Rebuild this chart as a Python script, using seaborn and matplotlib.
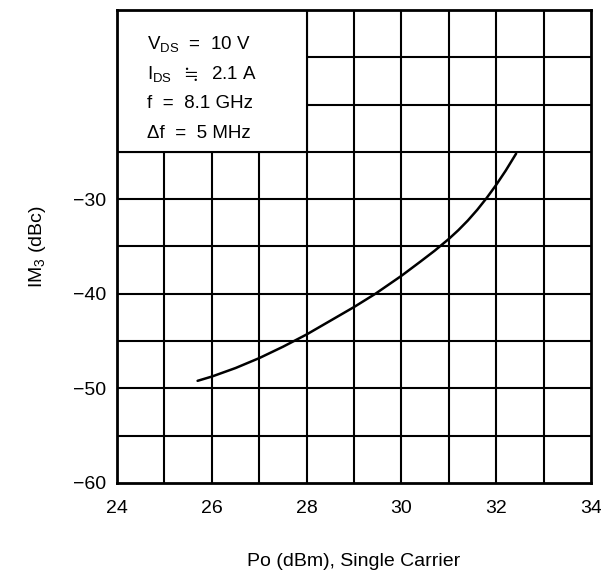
import numpy as np
import pandas as pd
import matplotlib
matplotlib.use("Agg")
import matplotlib.pyplot as plt
from matplotlib.patches import Rectangle
import seaborn as sns

# curve
po_dbm = [25.7, 26.0, 26.5, 27.0, 27.5, 28.0, 28.5, 29.0, 29.45, 30.0, 30.4, 30.7, 31.0, 31.2, 31.4, 31.6, 31.8, 32.0, 32.2, 32.42]
im3_dbc = [-49.2, -48.75, -47.85, -46.8, -45.6, -44.3, -42.85, -41.4, -40.0, -38.1, -36.6, -35.45, -34.2, -33.28, -32.26, -31.12, -29.86, -28.48, -26.98, -25.18]

x_ticks = [24, 26, 28, 30, 32, 34]
y_ticks = [-60, -50, -40, -30]
conditions = ["V$_{DS}$  =  10 V", r"I$_{DS}$  $\fallingdotseq$  2.1 A", "f  =  8.1 GHz", "\u0394f  =  5 MHz"]

sns.set_style("white")
plt.rcParams["font.family"] = ["Liberation Sans", "DejaVu Sans"]
plt.rcParams["mathtext.fontset"] = "custom"
plt.rcParams["mathtext.rm"] = "Liberation Sans"
plt.rcParams["mathtext.it"] = "Liberation Sans"
plt.rcParams["mathtext.default"] = "rm"
plt.rcParams["mathtext.fallback"] = "stix"
for key in ["text.color", "axes.labelcolor", "xtick.color", "ytick.color"]:
    plt.rcParams[key] = "black"

df = pd.DataFrame({"po": po_dbm, "im3": im3_dbc})

fig = plt.figure(figsize=(6.01, 5.76), dpi=100)
ax = fig.add_axes([0.1947, 0.1615, 0.7887, 0.8211])

# grid: 1 dBm by 5 dBc
for xv in np.arange(25, 34, 1):
    ax.axvline(xv, color="black", lw=1.5, zorder=1)
for yv in np.arange(-55, -10, 5):
    ax.axhline(yv, color="black", lw=1.5, zorder=1)

# white box holding the test conditions
ax.add_patch(Rectangle((24, -25), 4, 15, facecolor="white", edgecolor="none", zorder=2))
ax.vlines(28, -25, -10, color="black", lw=1.5, zorder=3)
ax.hlines(-25, 24, 28, color="black", lw=1.5, zorder=3)
for i, line in enumerate(conditions):
    ax.text(24.63, -13.6 - i * 3.15, line, fontsize=13.5, va="center", ha="left", zorder=4)

sns.lineplot(data=df, x="po", y="im3", color="black", lw=1.8, ax=ax, zorder=5)

ax.set_xlim(24, 34)
ax.set_ylim(-60, -10)
ax.set_xticks(x_ticks)
ax.set_yticks(y_ticks)
ax.set_yticklabels(["\u2212" + str(abs(v)) for v in y_ticks])
ax.tick_params(axis="x", length=0, labelsize=14, pad=12)
ax.tick_params(axis="y", length=0, labelsize=14, pad=8)
for s in ax.spines.values():
    s.set_linewidth(2)
    s.set_color("black")
    s.set_zorder(6)

ax.set_xlabel("Po (dBm), Single Carrier", fontsize=14, labelpad=26)
ax.set_ylabel("IM$_3$ (dBc)", fontsize=14, labelpad=18)

fig.savefig("out.png", dpi=100)
